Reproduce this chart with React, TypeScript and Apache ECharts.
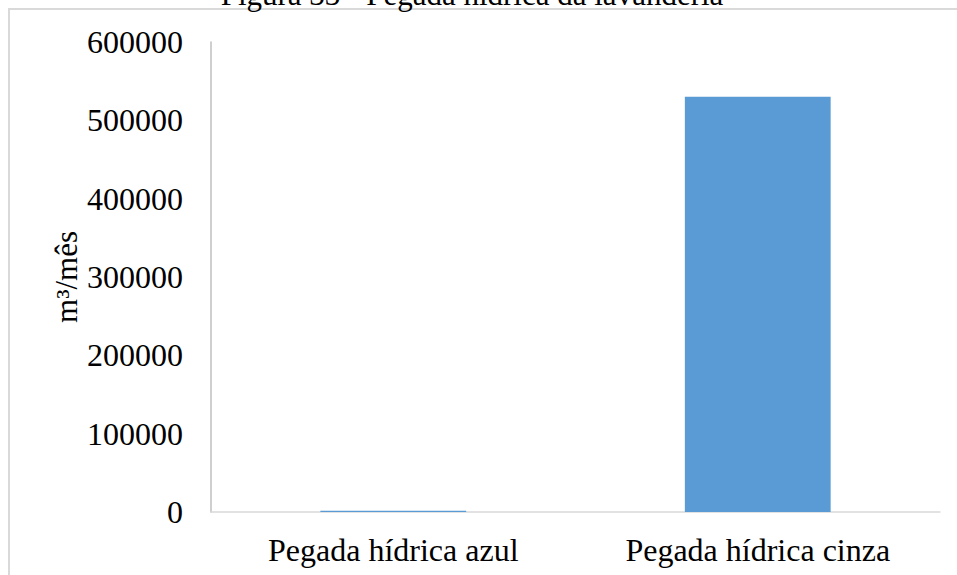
import React, { useEffect, useRef } from "react";
import * as echarts from "echarts";

const categories = ["Pegada hídrica azul", "Pegada hídrica cinza"];
const values = [1500, 530000];
const yTicks = { min: 0, max: 600000, interval: 100000 };
const titleText = "Figura 33 - Pegada hídrica da lavanderia";
const yName = "m³/mês";

export default function App() {
  const ref = useRef<HTMLDivElement>(null);
  useEffect(() => {
    if (!ref.current) return;
    const chart = echarts.init(ref.current, null, { renderer: "svg" });
    const font = "Liberation Serif";
    chart.setOption({
      animation: false,
      backgroundColor: "#ffffff",
      textStyle: { fontFamily: font },
      graphic: [
        {
          type: "rect",
          shape: { x: 9, y: 9, width: 1000, height: 700 },
          style: { fill: "none", stroke: "#d9d9d9", lineWidth: 2 },
          silent: true,
        },
        {
          type: "text",
          x: 472,
          y: -6,
          style: {
            text: titleText,
            fontFamily: font,
            fontSize: 31,
            fill: "#000",
            textAlign: "center",
            textVerticalAlign: "middle",
          },
        },
      ],
      grid: { left: 211, right: 17, top: 42, bottom: 63 },
      xAxis: {
        type: "category",
        data: categories,
        axisLine: { lineStyle: { color: "#d9d9d9", width: 1.5 } },
        axisTick: { show: false },
        axisLabel: { color: "#000", fontFamily: font, fontSize: 32, margin: 22 },
      },
      yAxis: {
        type: "value",
        min: yTicks.min,
        max: yTicks.max,
        interval: yTicks.interval,
        name: yName,
        nameLocation: "middle",
        nameGap: 129,
        nameRotate: 90,
        nameMoveOverlap: false,
        nameTextStyle: { color: "#000", fontFamily: font, fontSize: 31 },
        axisLine: { show: true, lineStyle: { color: "#bfbfbf", width: 1.5 } },
        axisTick: { show: false },
        splitLine: { show: false },
        axisLabel: {
          color: "#000",
          fontFamily: font,
          fontSize: 32,
          margin: 28,
          formatter: (v: number) => String(v),
        },
      },
      series: [
        {
          type: "bar",
          data: values,
          barWidth: "40%",
          itemStyle: { color: "#5b9bd5" },
        },
      ],
    });
    return () => chart.dispose();
  }, []);
  return (
    <div
      ref={ref}
      style={{ position: "absolute", left: 0, top: 0, width: 957, height: 575 }}
    />
  );
}
